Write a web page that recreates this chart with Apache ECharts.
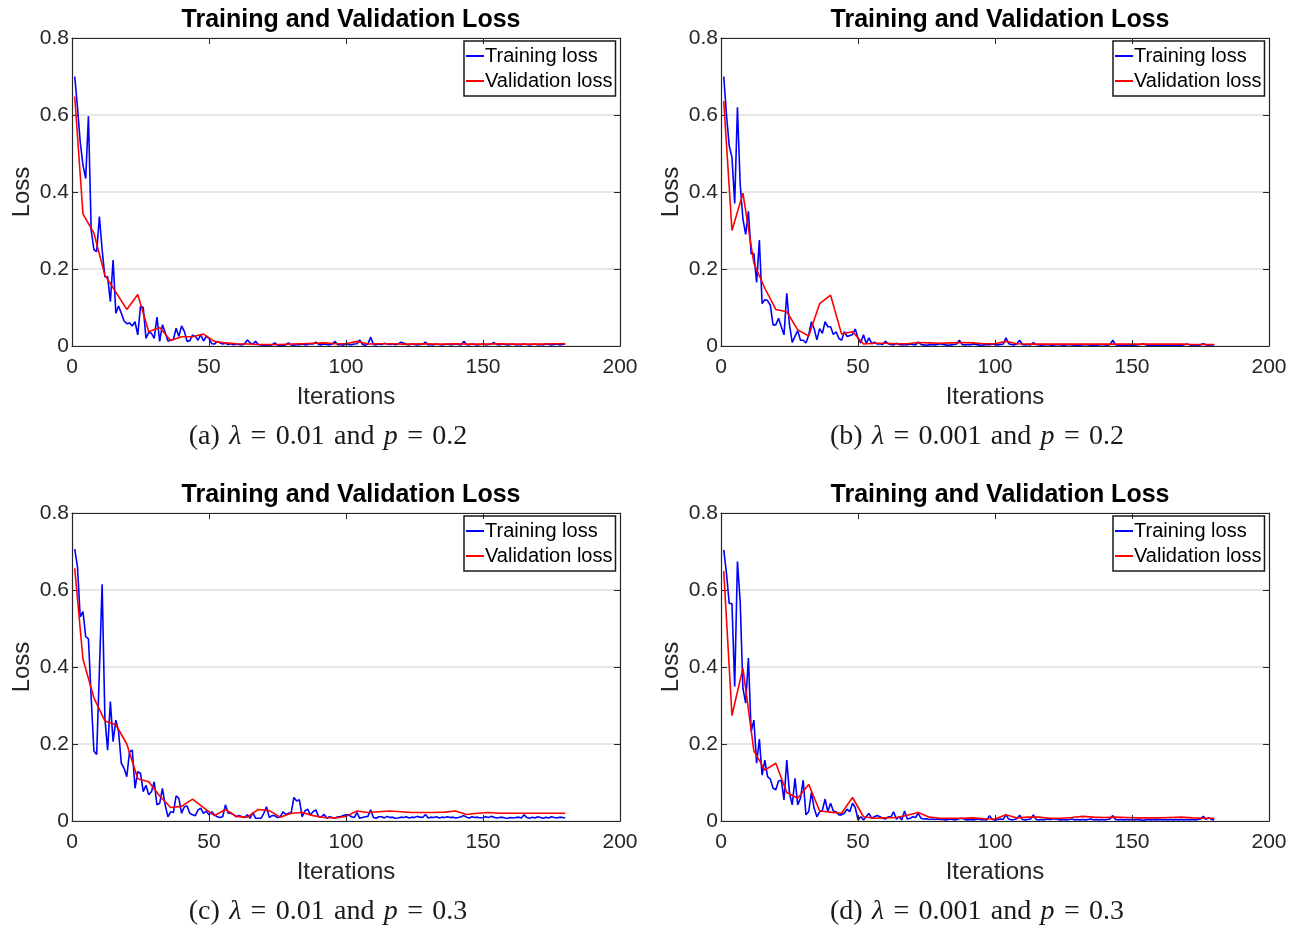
<!DOCTYPE html>
<html>
<head>
<meta charset="utf-8">
<script src="https://cdn.jsdelivr.net/npm/echarts@6/dist/echarts.min.js"></script>
<style>
html,body{margin:0;padding:0;background:#fff;}
#chart{width:1299px;height:928px;}
</style>
</head>
<body>
<div id="chart"></div>
<script>
// ---------------- data ----------------
const panelTitle = 'Training and Validation Loss';
const seriesNames = ['Training loss', 'Validation loss'];
const xTicks = [0, 50, 100, 150, 200];
const yTicks = [0, 0.2, 0.4, 0.6, 0.8];
const captions = [
  ['(a)\u2004', 'λ', '\u2004=\u20040.01\u2004and\u2004', 'p', '\u2004=\u20040.2'],
  ['(b)\u2004', 'λ', '\u2004=\u20040.001\u2004and\u2004', 'p', '\u2004=\u20040.2'],
  ['(c)\u2004', 'λ', '\u2004=\u20040.01\u2004and\u2004', 'p', '\u2004=\u20040.3'],
  ['(d)\u2004', 'λ', '\u2004=\u20040.001\u2004and\u2004', 'p', '\u2004=\u20040.3']
];

// validation checkpoints (iterations)
const valIters = [1,4,8,12,16,20,24,28,32,36,40,44,48,52,56,60,64,68,72,76,80,84,88,92,96,100,
  104,108,112,116,120,124,128,132,136,140,144,148,152,156,160,164,168,172,176,180];

const trainA = [
  0.70,0.62,0.53,0.47,0.435,0.597,0.30,0.25,0.245,0.336,
  0.25,0.18,0.18,0.115,0.223,0.085,0.104,0.085,0.065,0.058,
  0.06,0.052,0.063,0.029,0.104,0.10,0.02,0.035,0.033,0.02,
  0.075,0.012,0.055,0.035,0.013,0.015,0.017,0.046,0.025,0.052,
  0.038,0.012,0.014,0.028,0.025,0.015,0.03,0.013,0.025,0.02,
  0.006,0.005,0.012,0.008,0.005,0.007,0.004,0.006,0.003,0.005,
  0.004,0.003,0.006,0.016,0.008,0.005,0.012,0.004,0.003,0.002,
  0.003,0.002,0.003,0.008,0.002,0.003,0.002,0.003,0.008,0.003,
  0.002,0.004,0.003,0.005,0.003,0.004,0.006,0.005,0.01,0.004,
  0.003,0.005,0.004,0.003,0.005,0.012,0.003,0.004,0.002,0.005,
  0.004,0.003,0.005,0.006,0.016,0.004,0.002,0.005,0.023,0.004,
  0.003,0.005,0.004,0.007,0.005,0.004,0.006,0.003,0.005,0.01,
  0.008,0.004,0.003,0.005,0.004,0.003,0.004,0.005,0.01,0.003,
  0.004,0.003,0.005,0.004,0.003,0.004,0.005,0.003,0.004,0.005,
  0.004,0.003,0.012,0.004,0.003,0.005,0.004,0.003,0.004,0.005,
  0.003,0.004,0.005,0.009,0.004,0.003,0.005,0.004,0.003,0.004,
  0.005,0.003,0.004,0.003,0.005,0.004,0.003,0.004,0.005,0.003,
  0.004,0.003,0.006,0.004,0.003,0.004,0.005,0.003,0.004,0.006
];
const valA = [0.648,0.343,0.293,0.184,0.14,0.095,0.134,0.037,0.048,0.014,0.024,0.024,0.031,0.012,0.008,0.006,
  0.005,0.004,0.004,0.004,0.005,0.006,0.007,0.008,0.006,0.006,0.012,0.005,0.006,0.006,0.005,0.005,
  0.006,0.005,0.005,0.006,0.005,0.005,0.005,0.006,0.005,0.005,0.005,0.005,0.006,0.006];

const trainB = [
  0.70,0.60,0.52,0.49,0.37,0.62,0.42,0.33,0.29,0.35,
  0.24,0.24,0.165,0.275,0.11,0.12,0.118,0.106,0.055,0.055,
  0.072,0.05,0.029,0.137,0.055,0.009,0.025,0.04,0.015,0.015,
  0.008,0.028,0.063,0.045,0.016,0.045,0.033,0.063,0.05,0.05,
  0.03,0.037,0.02,0.015,0.037,0.025,0.027,0.03,0.044,0.02,
  0.008,0.029,0.007,0.021,0.006,0.01,0.005,0.006,0.004,0.012,
  0.006,0.004,0.003,0.007,0.004,0.003,0.004,0.003,0.005,0.004,
  0.003,0.01,0.004,0.003,0.002,0.003,0.004,0.003,0.004,0.006,
  0.004,0.003,0.002,0.003,0.004,0.005,0.015,0.004,0.003,0.004,
  0.003,0.005,0.004,0.003,0.002,0.003,0.004,0.003,0.005,0.004,
  0.003,0.004,0.005,0.021,0.006,0.004,0.003,0.005,0.015,0.004,
  0.003,0.004,0.003,0.009,0.004,0.003,0.002,0.003,0.004,0.003,
  0.002,0.003,0.004,0.003,0.002,0.003,0.004,0.003,0.002,0.003,
  0.002,0.003,0.004,0.003,0.002,0.003,0.002,0.003,0.004,0.003,
  0.002,0.004,0.015,0.003,0.002,0.003,0.002,0.003,0.002,0.003,
  0.002,0.003,0.004,0.006,0.003,0.002,0.003,0.002,0.003,0.002,
  0.003,0.002,0.003,0.002,0.003,0.002,0.003,0.002,0.003,0.005,
  0.003,0.002,0.003,0.002,0.003,0.006,0.003,0.002,0.003,0.003
];
const valB = [0.636,0.30,0.397,0.215,0.15,0.095,0.089,0.042,0.026,0.11,0.132,0.031,0.037,0.005,0.007,0.007,
  0.006,0.006,0.009,0.008,0.007,0.008,0.009,0.008,0.006,0.006,0.012,0.006,0.005,0.005,0.005,0.005,
  0.005,0.005,0.005,0.005,0.005,0.005,0.005,0.005,0.005,0.005,0.005,0.004,0.004,0.004];

const trainC = [
  0.706,0.66,0.53,0.544,0.479,0.473,0.32,0.182,0.173,0.39,
  0.615,0.267,0.184,0.31,0.206,0.262,0.232,0.15,0.137,0.115,
  0.18,0.184,0.085,0.128,0.124,0.076,0.093,0.068,0.076,0.102,
  0.042,0.046,0.085,0.042,0.011,0.024,0.022,0.065,0.059,0.02,
  0.037,0.039,0.02,0.016,0.014,0.029,0.033,0.02,0.026,0.016,
  0.024,0.016,0.011,0.009,0.011,0.042,0.02,0.02,0.016,0.011,
  0.014,0.011,0.009,0.016,0.007,0.022,0.007,0.007,0.007,0.02,
  0.037,0.009,0.014,0.014,0.009,0.011,0.024,0.017,0.02,0.022,
  0.061,0.052,0.055,0.011,0.026,0.031,0.016,0.024,0.029,0.011,
  0.011,0.017,0.007,0.011,0.009,0.007,0.011,0.011,0.014,0.016,
  0.016,0.011,0.009,0.022,0.007,0.009,0.011,0.012,0.029,0.009,
  0.007,0.011,0.011,0.008,0.012,0.009,0.01,0.007,0.008,0.01,
  0.009,0.011,0.008,0.01,0.009,0.012,0.01,0.009,0.017,0.008,
  0.01,0.009,0.011,0.008,0.01,0.009,0.011,0.009,0.01,0.008,
  0.009,0.011,0.014,0.01,0.008,0.011,0.009,0.01,0.008,0.009,
  0.011,0.009,0.012,0.01,0.008,0.009,0.01,0.008,0.007,0.009,
  0.008,0.009,0.01,0.008,0.016,0.009,0.007,0.01,0.008,0.011,
  0.009,0.007,0.01,0.008,0.011,0.009,0.008,0.01,0.009,0.008
];
const valC = [0.656,0.42,0.32,0.26,0.25,0.2,0.11,0.102,0.065,0.035,0.038,0.057,0.035,0.014,0.03,0.012,
  0.01,0.03,0.027,0.01,0.02,0.022,0.014,0.009,0.008,0.012,0.026,0.022,0.024,0.026,0.024,0.022,
  0.022,0.022,0.023,0.026,0.017,0.02,0.022,0.02,0.02,0.02,0.02,0.02,0.02,0.02];

const trainD = [
  0.704,0.643,0.565,0.565,0.349,0.674,0.57,0.345,0.306,0.423,
  0.232,0.262,0.15,0.213,0.119,0.158,0.115,0.109,0.085,0.081,
  0.104,0.106,0.055,0.158,0.072,0.042,0.111,0.042,0.059,0.106,
  0.016,0.024,0.074,0.033,0.011,0.024,0.028,0.057,0.024,0.046,
  0.026,0.024,0.016,0.016,0.02,0.031,0.024,0.046,0.035,0.003,
  0.011,0.003,0.011,0.02,0.007,0.011,0.014,0.011,0.007,0.005,
  0.011,0.01,0.024,0.005,0.011,0.003,0.026,0.005,0.007,0.011,
  0.009,0.02,0.007,0.005,0.006,0.004,0.005,0.004,0.005,0.004,
  0.004,0.003,0.004,0.005,0.003,0.004,0.006,0.007,0.004,0.003,
  0.004,0.003,0.004,0.005,0.003,0.004,0.003,0.014,0.004,0.003,
  0.004,0.005,0.004,0.016,0.005,0.003,0.004,0.006,0.015,0.004,
  0.003,0.004,0.005,0.016,0.004,0.003,0.004,0.003,0.005,0.004,
  0.005,0.006,0.004,0.003,0.004,0.003,0.004,0.005,0.003,0.004,
  0.003,0.004,0.003,0.004,0.005,0.003,0.004,0.003,0.004,0.003,
  0.004,0.005,0.014,0.004,0.003,0.004,0.003,0.004,0.003,0.004,
  0.003,0.004,0.003,0.002,0.003,0.004,0.003,0.004,0.003,0.004,
  0.003,0.004,0.003,0.004,0.003,0.004,0.003,0.004,0.003,0.004,
  0.003,0.004,0.003,0.004,0.005,0.012,0.004,0.009,0.004,0.003
];
const valD = [0.649,0.274,0.397,0.182,0.132,0.15,0.074,0.059,0.095,0.026,0.023,0.02,0.061,0.011,0.007,0.008,
  0.009,0.015,0.022,0.01,0.007,0.007,0.007,0.008,0.006,0.005,0.016,0.008,0.01,0.01,0.007,0.007,
  0.009,0.012,0.01,0.009,0.01,0.009,0.008,0.008,0.008,0.009,0.01,0.008,0.007,0.007];

const trainSets = [trainA, trainB, trainC, trainD];
const valSets = [valA, valB, valC, valD];

// ---------------- layout ----------------
const panels = [
  {left: 72, top: 38, capX: 323},
  {left: 721, top: 38, capX: 972},
  {left: 72, top: 513, capX: 323},
  {left: 721, top: 513, capX: 972}
];
const PW = 548, PH = 308;
const AX = '#262626';
const FONT = '"Liberation Sans", Arial, Helvetica, sans-serif';
const SERIF = '"Liberation Serif", "DejaVu Serif", serif';

const grids = [], xAxes = [], yAxes = [], series = [], titles = [], legends = [];
panels.forEach((p, i) => {
  grids.push({left: p.left, top: p.top, width: PW, height: PH, show: false, containLabel: false});
  // bottom x axis
  xAxes.push({type: 'value', gridIndex: i, min: xTicks[0], max: xTicks[xTicks.length-1], interval: 50,
    name: 'Iterations', nameLocation: 'middle', nameGap: 39,
    nameTextStyle: {fontFamily: FONT, fontSize: 24, color: AX},
    axisLine: {show: true, onZero: false, lineStyle: {color: AX, width: 1.2}},
    axisTick: {show: true, inside: true, length: 6, lineStyle: {color: AX}},
    axisLabel: {fontFamily: FONT, fontSize: 21, color: AX, margin: 11},
    splitLine: {show: false}, z: 5});
  // top mirror axis (box + ticks)
  xAxes.push({type: 'value', gridIndex: i, position: 'top', min: 0, max: 200, interval: 50,
    axisLine: {show: true, onZero: false, lineStyle: {color: AX, width: 1.2}},
    axisTick: {show: true, inside: true, length: 6, lineStyle: {color: AX}},
    axisLabel: {show: false}, splitLine: {show: false}, z: 5});
  yAxes.push({type: 'value', gridIndex: i, min: yTicks[0], max: yTicks[yTicks.length-1], interval: 0.2,
    name: 'Loss', nameLocation: 'middle', nameGap: 38,
    nameTextStyle: {fontFamily: FONT, fontSize: 24, color: AX},
    axisLine: {show: true, onZero: false, lineStyle: {color: AX, width: 1.2}},
    axisTick: {show: true, inside: true, length: 6, lineStyle: {color: AX}},
    axisLabel: {fontFamily: FONT, fontSize: 21, color: AX, margin: 3,
      formatter: v => (v === 0 ? '0' : v.toFixed(1))},
    splitLine: {show: true, lineStyle: {color: '#dedede', width: 1.5}}, z: 1});
  yAxes.push({type: 'value', gridIndex: i, position: 'right', min: 0, max: 0.8, interval: 0.2,
    axisLine: {show: true, onZero: false, lineStyle: {color: AX, width: 1.2}},
    axisTick: {show: true, inside: true, length: 6, lineStyle: {color: AX}},
    axisLabel: {show: false}, splitLine: {show: false}, z: 5});

  const tr = trainSets[i].map((v, k) => [k + 1, v]);
  const va = valSets[i].map((v, k) => [valIters[k], v]);
  series.push({name: seriesNames[0], type: 'line', xAxisIndex: 2*i, yAxisIndex: 2*i, data: tr,
    symbol: 'none', showSymbol: false, lineStyle: {color: '#0000ff', width: 1.6}, itemStyle: {color: '#0000ff'},
    z: 2});
  series.push({name: seriesNames[1], type: 'line', xAxisIndex: 2*i, yAxisIndex: 2*i, data: va,
    symbol: 'none', showSymbol: false, lineStyle: {color: '#ff0000', width: 1.6}, itemStyle: {color: '#ff0000'},
    z: 3});

  titles.push({text: panelTitle, left: p.left + PW/2, top: p.top - 35, textAlign: 'center',
    textStyle: {fontFamily: FONT, fontSize: 25, fontWeight: 'bold', color: '#000'}});
  const c = captions[i];
  titles.push({text: '{n|' + c[0] + '}{i|' + c[1] + '}{n|' + c[2] + '}{i|' + c[3] + '}{n|' + c[4] + '}',
    left: p.capX, top: p.top + 380, textAlign: 'center',
    textStyle: {fontWeight: 'normal', rich: {
      n: {fontFamily: SERIF, fontSize: 28, fontWeight: 'normal', color: '#1a1a1a'},
      i: {fontFamily: SERIF, fontSize: 28, fontWeight: 'normal', fontStyle: 'italic', color: '#1a1a1a'}
    }}});
  legends.push({data: seriesNames, orient: 'vertical', left: p.left + 392, top: p.top + 3,
    itemWidth: 18, itemHeight: 2, icon: 'rect', itemGap: 5,
    padding: [5, 3, 5, 2], borderColor: '#1a1a1a', borderWidth: 1.5, backgroundColor: '#fff',
    textStyle: {fontFamily: FONT, fontSize: 20, color: '#000', padding: [0, 0, 0, -4]},
    selectedMode: false});
});

const chart = echarts.init(document.getElementById('chart'), null, {renderer: 'canvas'});
chart.setOption({
  animation: false,
  backgroundColor: '#fff',
  title: titles,
  legend: legends,
  grid: grids,
  xAxis: xAxes,
  yAxis: yAxes,
  series: series
});
</script>
</body>
</html>
